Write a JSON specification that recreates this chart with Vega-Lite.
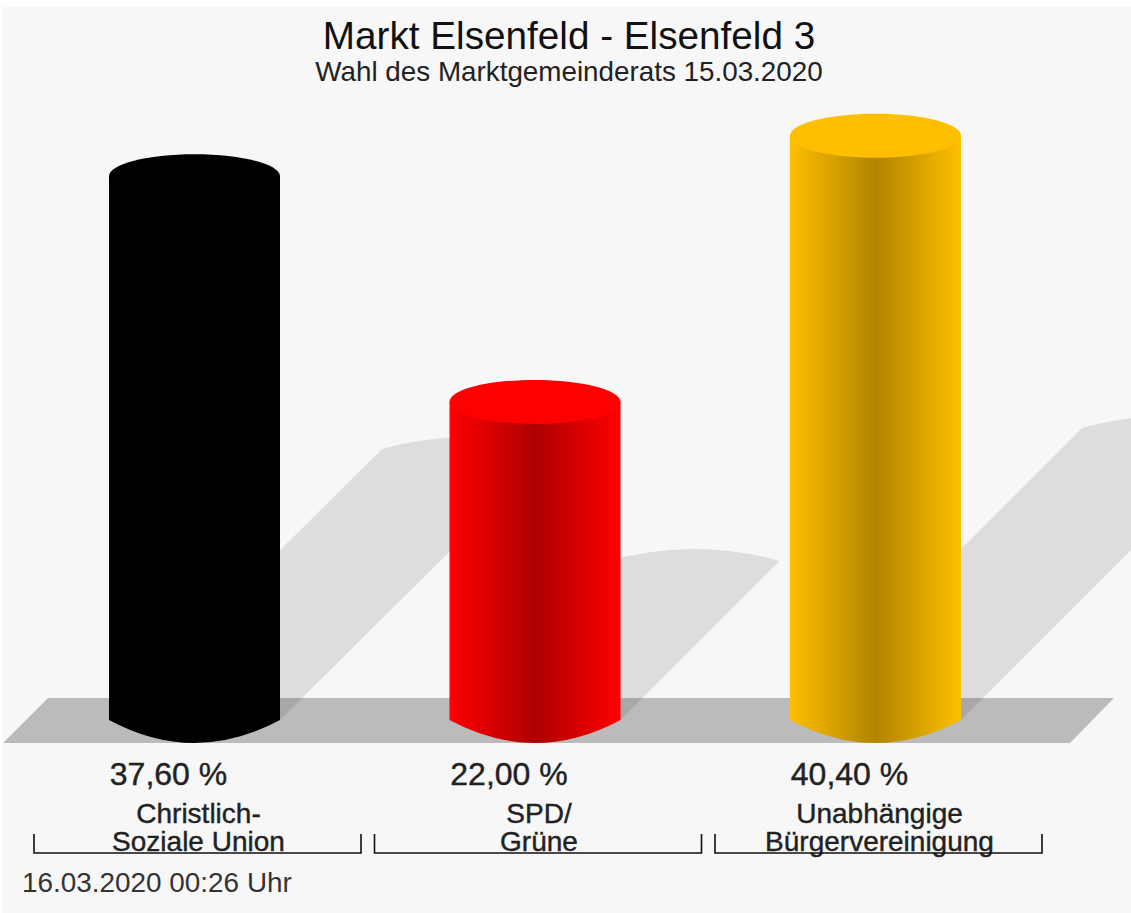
{
"$schema":"https://vega.github.io/schema/vega-lite/v6.json",
"autosize":{"type":"none"},
"padding":{"left":3,"top":7,"right":0,"bottom":0},
"width":1128,"height":906,
"background":"#ffffff",
"view":{"fill":"#f7f7f7","stroke":null},
"title":{"text":"Markt Elsenfeld - Elsenfeld 3","subtitle":"Wahl des Marktgemeinderats 15.03.2020","font":"Liberation Sans","fontSize":38.7,"fontWeight":"normal","color":"#111111","subtitleFont":"Liberation Sans","subtitleFontSize":27.8,"subtitleColor":"#222222","subtitlePadding":3,"anchor":"middle","offset":-80,"dx":2},
"data":{"values":[
{"party":"Christlich-Soziale Union","pct":37.6,"wert":"37,60 %","label":"Christlich-\nSoziale Union"},
{"party":"SPD/Grüne","pct":22.0,"wert":"22,00 %","label":"SPD/\nGrüne"},
{"party":"Unabhängige Bürgervereinigung","pct":40.4,"wert":"40,40 %","label":"Unabhängige\nBürgervereinigung"}
]},
"encoding":{
"x":{"field":"party","type":"nominal","axis":null,"sort":null,"scale":{"type":"band","domain":["Christlich-Soziale Union","SPD/Grüne","Unabhängige Bürgervereinigung"],"range":[21.25,1042.75],"paddingInner":0,"paddingOuter":0}}
},
"layer":[
{"transform":[{"filter":"datum.party === 'SPD/Grüne'"}],
 "mark":{"type":"point","filled":true,"fill":"#bbbbbb","stroke":null,"opacity":1,"size":4,"shape":"M-532,23 L-487,-22 L579,-22 L535,23 Z"},
 "encoding":{"y":{"datum":0,"type":"quantitative","axis":null,"scale":{"domain":[-13.347,49.31],"range":[906,0],"nice":false,"zero":false}}}},
{"mark":{"type":"point","filled":true,"fill":"#000000","fillOpacity":0.1,"stroke":null,"opacity":1,"size":4},
 "encoding":{"y":{"datum":0,"type":"quantitative","axis":null},
 "shape":{"field":"party","type":"nominal","legend":null,"scale":{"domain":["Christlich-Soziale Union","SPD/Grüne","Unabhängige Bürgervereinigung"],"range":["M-85.5,0 L187.5,-271 Q273,-295 358.5,-271 L85.5,0 Z","M-85.5,0 L73.5,-159 Q159,-183 244.5,-159 L85.5,0 Z","M-85.5,0 L206.5,-292 Q292,-316 377.5,-292 L85.5,0 Z"]}}}},
{"transform":[{"filter":"datum.party === 'Christlich-Soziale Union'"}],
 "mark":{"type":"bar","size":171,"fill":"#000000"},
 "encoding":{"y":{"field":"pct","type":"quantitative","axis":null}}},
{"transform":[{"filter":"datum.party === 'SPD/Grüne'"}],
 "mark":{"type":"bar","size":171,"fill":{"gradient":"linear","x1":0,"y1":0,"x2":1,"y2":0,"stops":[{"offset":0,"color":"#ff0000"},{"offset":0.5,"color":"#ae0000"},{"offset":1,"color":"#ff0000"}]}},
 "encoding":{"y":{"field":"pct","type":"quantitative","axis":null}}},
{"transform":[{"filter":"datum.party === 'Unabhängige Bürgervereinigung'"}],
 "mark":{"type":"bar","size":171,"fill":{"gradient":"linear","x1":0,"y1":0,"x2":1,"y2":0,"stops":[{"offset":0,"color":"#ffbf00"},{"offset":0.5,"color":"#b08400"},{"offset":1,"color":"#ffbf00"}]}},
 "encoding":{"y":{"field":"pct","type":"quantitative","axis":null}}},
{"transform":[{"filter":"datum.party === 'Christlich-Soziale Union'"}],
 "mark":{"type":"point","filled":true,"fill":"#000000","stroke":null,"opacity":1,"size":4,"shape":"M-85.5,0 Q0,46 85.5,0 Z"},
 "encoding":{"y":{"datum":0,"type":"quantitative","axis":null}}},
{"transform":[{"filter":"datum.party === 'SPD/Grüne'"}],
 "mark":{"type":"point","filled":true,"stroke":null,"opacity":1,"size":4,"shape":"M-85.5,0 Q0,46 85.5,0 Z","fill":{"gradient":"linear","x1":0,"y1":0,"x2":1,"y2":0,"stops":[{"offset":0,"color":"#ff0000"},{"offset":0.5,"color":"#ae0000"},{"offset":1,"color":"#ff0000"}]}},
 "encoding":{"y":{"datum":0,"type":"quantitative","axis":null}}},
{"transform":[{"filter":"datum.party === 'Unabhängige Bürgervereinigung'"}],
 "mark":{"type":"point","filled":true,"stroke":null,"opacity":1,"size":4,"shape":"M-85.5,0 Q0,46 85.5,0 Z","fill":{"gradient":"linear","x1":0,"y1":0,"x2":1,"y2":0,"stops":[{"offset":0,"color":"#ffbf00"},{"offset":0.5,"color":"#b08400"},{"offset":1,"color":"#ffbf00"}]}},
 "encoding":{"y":{"datum":0,"type":"quantitative","axis":null}}},
{"mark":{"type":"point","filled":true,"stroke":null,"opacity":1,"size":4,"shape":"M-85.5,0 A85.5,22 0 1 1 85.5,0 A85.5,22 0 1 1 -85.5,0 Z"},
 "encoding":{"y":{"field":"pct","type":"quantitative","axis":null},
 "fill":{"field":"party","type":"nominal","legend":null,"scale":{"domain":["Christlich-Soziale Union","SPD/Grüne","Unabhängige Bürgervereinigung"],"range":["#000000","#ff0000","#ffbf00"]}}}},
{"mark":{"type":"text","font":"Liberation Sans","fontSize":32,"align":"center","baseline":"alphabetic","xOffset":-26,"fill":"#222222","stroke":"#222222","strokeWidth":0.4},
 "encoding":{"y":{"datum":-4.5,"type":"quantitative","axis":null},"text":{"field":"wert"}}},
{"mark":{"type":"text","font":"Liberation Sans","fontSize":28,"align":"center","baseline":"alphabetic","lineBreak":"\n","lineHeight":28,"xOffset":4,"fill":"#222222","stroke":"#222222","strokeWidth":0.4},
 "encoding":{"y":{"datum":-7.12,"type":"quantitative","axis":null},"text":{"field":"label"}}},
{"mark":{"type":"point","filled":false,"fill":null,"stroke":"#111111","strokeWidth":1.6,"opacity":1,"size":4,"xOffset":3,"shape":"M-163.5,-19 L-163.5,0 L163.5,0 L163.5,-19"},
 "encoding":{"y":{"datum":-9.2,"type":"quantitative","axis":null}}},
{"data":{"values":[{"party":"Christlich-Soziale Union","stand":"16.03.2020 00:26 Uhr"}]},
 "mark":{"type":"text","font":"Liberation Sans","fontSize":27.9,"align":"left","baseline":"alphabetic","xOffset":-172.5,"fill":"#333333"},
 "encoding":{"y":{"datum":-11.9,"type":"quantitative","axis":null},"text":{"field":"stand"}}}
]
}
